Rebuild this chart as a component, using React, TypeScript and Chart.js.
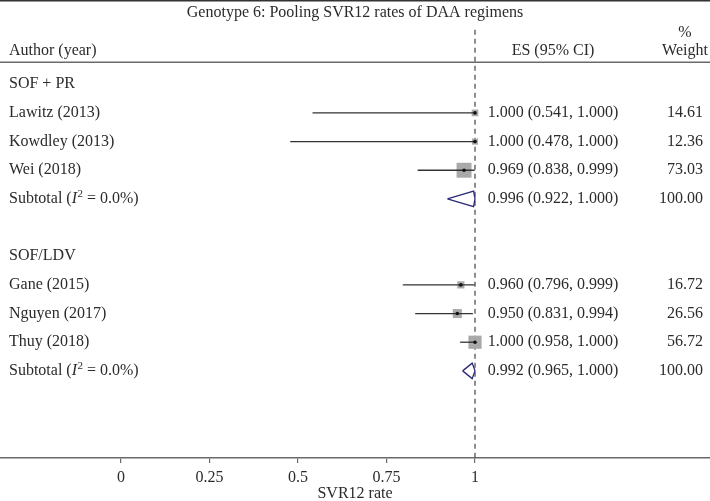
import React, { useEffect, useRef } from "react";
import { Chart, registerables } from "chart.js";

Chart.register(...registerables);

// ---------- data ----------
const TITLE = "Genotype 6: Pooling SVR12 rates of DAA regimens";
const X_TITLE = "SVR12 rate";
const X_TICKS = [0, 0.25, 0.5, 0.75, 1];
const X_TICK_LABELS = ["0", "0.25", "0.5", "0.75", "1"];
const NULL_LINE_X = 1;

const GROUP_NAMES = ["SOF + PR", "SOF/LDV"];
const GROUP_ROWS = [0, 6];

const STUDY_NAMES = ["Lawitz (2013)", "Kowdley (2013)", "Wei (2018)", "Gane (2015)", "Nguyen (2017)", "Thuy (2018)"];
const STUDY_ROWS = [1, 2, 3, 7, 8, 9];
const STUDY_ES = [1.0, 1.0, 0.969, 0.96, 0.95, 1.0];
const STUDY_LO = [0.541, 0.478, 0.838, 0.796, 0.831, 0.958];
const STUDY_HI = [1.0, 1.0, 0.999, 0.999, 0.994, 1.0];
const STUDY_WEIGHT = [14.61, 12.36, 73.03, 16.72, 26.56, 56.72];

const SUB_ROWS = [4, 10];
const SUB_I2 = ["0.0%", "0.0%"];
const SUB_ES = [0.996, 0.992];
const SUB_LO = [0.922, 0.965];
const SUB_HI = [1.0, 1.0];
const SUB_WEIGHT = [100.0, 100.0];

// ---------- layout / style ----------
const W = 710;
const H = 501;
const FONT = '"Liberation Serif", "Times New Roman", serif';
const TEXT = "#2b2b2b";
const X_MIN = -0.3418;
const X_MAX = 1.6638;
const Y_MIN = -2.94;
const Y_MAX = 13.04;
const TITLE_ROW = -2.48;
const PCT_ROW = -1.8;
const HEADER_ROW = -1.17;
const HEADER_RULE_ROW = -0.77;
const DASH_TOP_ROW = -1.9;
const DIAMOND_HALF = 0.27;

const textPlugin = {
  id: "forestText",
  afterDraw(chart: any) {
    const { ctx, scales } = chart;
    const y = scales.y;
    const cw = chart.width;
    ctx.save();
    // rules
    ctx.strokeStyle = "#333";
    ctx.lineWidth = 1.5;
    ctx.beginPath();
    ctx.moveTo(0, 0.75);
    ctx.lineTo(cw, 0.75);
    ctx.stroke();
    ctx.strokeStyle = "#6a6a6a";
    ctx.lineWidth = 1.5;
    const hy = y.getPixelForValue(HEADER_RULE_ROW);
    ctx.beginPath();
    ctx.moveTo(0, hy);
    ctx.lineTo(cw, hy);
    ctx.stroke();

    ctx.fillStyle = TEXT;
    ctx.textBaseline = "middle";
    ctx.font = `16px ${FONT}`;
    // title
    ctx.textAlign = "center";
    ctx.fillText(TITLE, cw / 2, y.getPixelForValue(TITLE_ROW));
    // headers
    ctx.textAlign = "left";
    ctx.fillText("Author (year)", 9, y.getPixelForValue(HEADER_ROW));
    ctx.textAlign = "center";
    ctx.fillText("ES (95% CI)", 553, y.getPixelForValue(HEADER_ROW));
    ctx.fillText("%", 685, y.getPixelForValue(PCT_ROW));
    ctx.fillText("Weight", 685, y.getPixelForValue(HEADER_ROW));

    // group labels
    ctx.textAlign = "left";
    GROUP_NAMES.forEach((g, i) => ctx.fillText(g, 9, y.getPixelForValue(GROUP_ROWS[i])));
    // studies
    STUDY_NAMES.forEach((s, i) => {
      const py = y.getPixelForValue(STUDY_ROWS[i]);
      ctx.textAlign = "left";
      ctx.fillText(s, 9, py);
      ctx.textAlign = "center";
      ctx.fillText(`${STUDY_ES[i].toFixed(3)} (${STUDY_LO[i].toFixed(3)}, ${STUDY_HI[i].toFixed(3)})`, 553, py);
      ctx.textAlign = "right";
      ctx.fillText(STUDY_WEIGHT[i].toFixed(2), 703, py);
    });
    // subtotals
    SUB_ROWS.forEach((r, i) => {
      const py = y.getPixelForValue(r);
      ctx.textAlign = "left";
      let x = 9;
      ctx.font = `16px ${FONT}`;
      const a = "Subtotal (";
      ctx.fillText(a, x, py);
      x += ctx.measureText(a).width;
      ctx.font = `italic 16px ${FONT}`;
      ctx.fillText("I", x, py);
      x += ctx.measureText("I").width + 0.5;
      ctx.font = `11px ${FONT}`;
      ctx.fillText("2", x, py - 5);
      x += ctx.measureText("2").width;
      ctx.font = `16px ${FONT}`;
      ctx.fillText(` = ${SUB_I2[i]})`, x, py);
      ctx.textAlign = "center";
      ctx.fillText(`${SUB_ES[i].toFixed(3)} (${SUB_LO[i].toFixed(3)}, ${SUB_HI[i].toFixed(3)})`, 553, py);
      ctx.textAlign = "right";
      ctx.fillText(SUB_WEIGHT[i].toFixed(2), 703, py);
    });
    ctx.restore();
  },
};

export default function App() {
  const ref = useRef<HTMLCanvasElement>(null);
  useEffect(() => {
    if (!ref.current) return;
    const ciSets = STUDY_ROWS.map((r, i) => ({
      type: "scatter",
      data: [
        { x: STUDY_LO[i], y: r },
        { x: STUDY_HI[i], y: r },
      ],
      showLine: true,
      borderColor: "#333",
      borderWidth: 1.3,
      pointRadius: 0,
      order: 2,
    }));
    const diamondSets = SUB_ROWS.map((r, i) => ({
      type: "scatter",
      data: [
        { x: SUB_LO[i], y: r },
        { x: SUB_ES[i], y: r - DIAMOND_HALF },
        { x: SUB_HI[i], y: r },
        { x: SUB_ES[i], y: r + DIAMOND_HALF },
        { x: SUB_LO[i], y: r },
      ],
      showLine: true,
      borderColor: "#2a2a7a",
      borderWidth: 1.3,
      pointRadius: 0,
      fill: false,
      order: 2,
    }));
    const chart = new Chart(ref.current, {
      type: "scatter",
      data: {
        datasets: [
          {
            data: [
              { x: NULL_LINE_X, y: DASH_TOP_ROW },
              { x: NULL_LINE_X, y: Y_MAX },
            ],
            showLine: true,
            borderColor: "#333",
            borderWidth: 1.1,
            borderDash: [5, 4],
            pointRadius: 0,
            order: 5,
          },
          {
            data: STUDY_ROWS.map((r, i) => ({ x: STUDY_ES[i], y: r })),
            pointStyle: "rect",
            pointRadius: (c: any) => (1.75 * Math.sqrt(STUDY_WEIGHT[c.dataIndex] || 0)) / Math.SQRT2,
            backgroundColor: "#a9a9a9",
            borderWidth: 0,
            order: 4,
          },
          ...(ciSets as any[]),
          ...(diamondSets as any[]),
          {
            data: STUDY_ROWS.map((r, i) => ({ x: STUDY_ES[i], y: r })),
            pointStyle: "circle",
            pointRadius: 1.8,
            backgroundColor: "#111",
            borderWidth: 0,
            order: 0,
          },
        ],
      },
      options: {
        animation: false,
        responsive: false,
        maintainAspectRatio: false,
        devicePixelRatio: 1,
        events: [],
        layout: { padding: 0, autoPadding: false },
        plugins: { legend: { display: false }, tooltip: { enabled: false }, title: { display: false } },
        scales: {
          x: {
            type: "linear",
            position: "bottom",
            min: X_MIN,
            max: X_MAX,
            afterBuildTicks: (s: any) => {
              s.ticks = X_TICKS.map((v) => ({ value: v }));
            },
            ticks: {
              autoSkip: false,
              maxRotation: 0,
              padding: 7,
              color: TEXT,
              font: { family: FONT, size: 16, lineHeight: 1 },
              callback: (v: any) => {
                const i = X_TICKS.indexOf(Number(v));
                return i >= 0 ? X_TICK_LABELS[i] : "";
              },
            },
            grid: { display: true, drawOnChartArea: false, drawTicks: true, tickLength: 5, color: "#6a6a6a", lineWidth: 1.2 },
            border: { display: true, color: "#6a6a6a", width: 1.5 },
            title: {
              display: true,
              text: X_TITLE,
              color: TEXT,
              font: { family: FONT, size: 16, lineHeight: 1 },
              padding: { top: -7, bottom: -1 },
            },
          },
          y: {
            type: "linear",
            display: false,
            min: Y_MIN,
            max: Y_MAX,
            reverse: true,
          },
        },
      } as any,
      plugins: [textPlugin],
    });
    return () => chart.destroy();
  }, []);
  return (
    <div style={{ position: "fixed", left: 0, top: 0, width: W, height: H, background: "#fff" }}>
      <canvas ref={ref} width={W} height={H} style={{ display: "block", width: W, height: H }} />
    </div>
  );
}
